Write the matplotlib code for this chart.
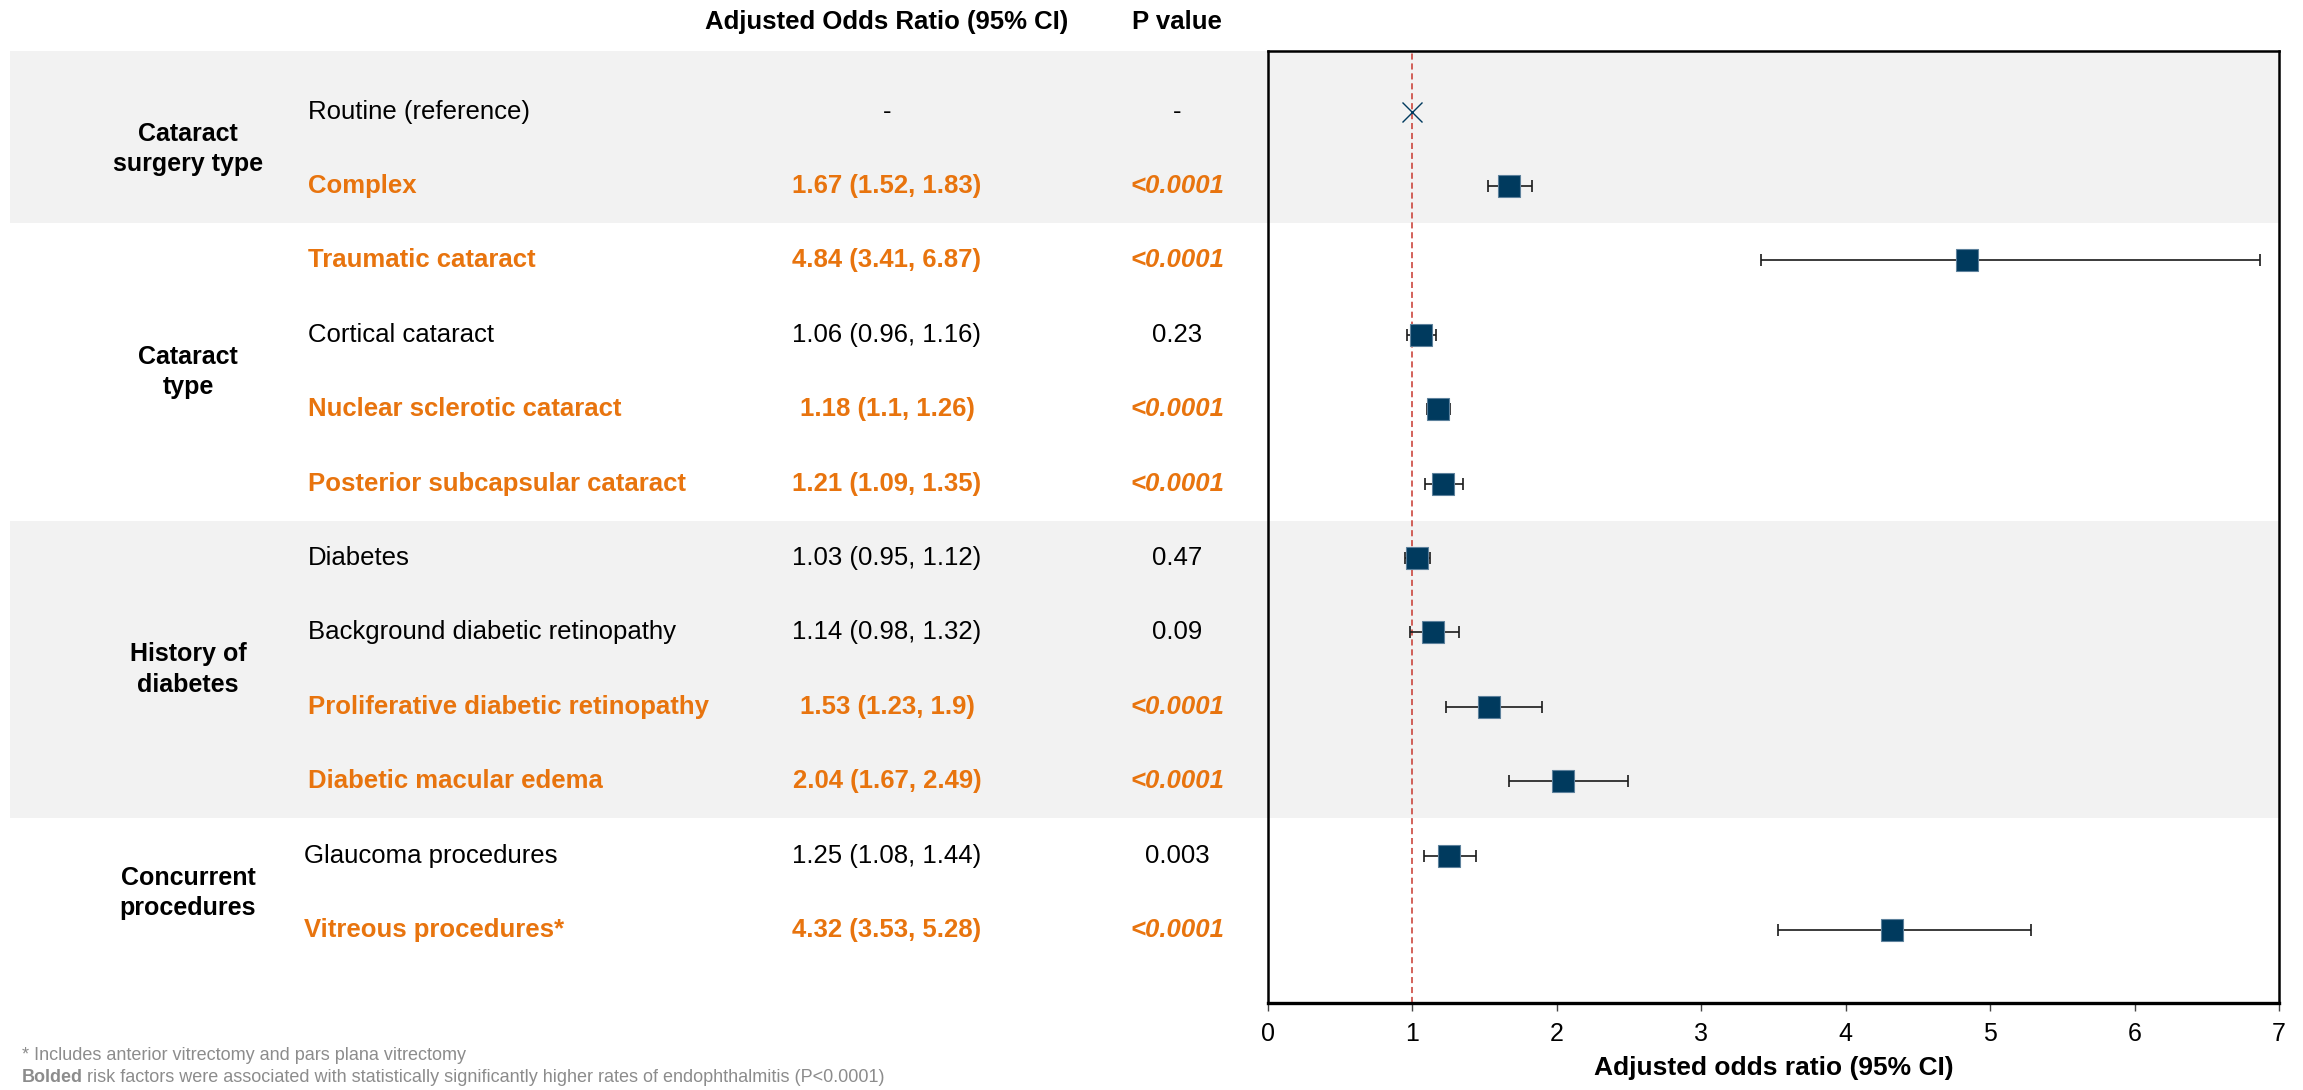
import matplotlib.pyplot as plt
from matplotlib.transforms import blended_transform_factory

plt.rcParams['font.family'] = ['Liberation Sans', 'DejaVu Sans']

# Table rows, top to bottom
labels = ['Routine (reference)', 'Complex', 'Traumatic cataract', 'Cortical cataract',
          'Nuclear sclerotic cataract', 'Posterior subcapsular cataract', 'Diabetes',
          'Background diabetic retinopathy', 'Proliferative diabetic retinopathy',
          'Diabetic macular edema', 'Glaucoma procedures', 'Vitreous procedures*']
odds = [1.00, 1.67, 4.84, 1.06, 1.18, 1.21, 1.03, 1.14, 1.53, 2.04, 1.25, 4.32]
ci_low = [None, 1.52, 3.41, 0.96, 1.10, 1.09, 0.95, 0.98, 1.23, 1.67, 1.08, 3.53]
ci_high = [None, 1.83, 6.87, 1.16, 1.26, 1.35, 1.12, 1.32, 1.90, 2.49, 1.44, 5.28]
pvals = ['-', '<0.0001', '<0.0001', '0.23', '<0.0001', '<0.0001', '0.47', '0.09',
         '<0.0001', '<0.0001', '0.003', '<0.0001']
significant = [False, True, True, False, True, True, False, False, True, True, False, True]
or_text = ['-', '1.67 (1.52, 1.83)', '4.84 (3.41, 6.87)', '1.06 (0.96, 1.16)',
           '1.18 (1.1, 1.26)', '1.21 (1.09, 1.35)', '1.03 (0.95, 1.12)',
           '1.14 (0.98, 1.32)', '1.53 (1.23, 1.9)', '2.04 (1.67, 2.49)',
           '1.25 (1.08, 1.44)', '4.32 (3.53, 5.28)']

# Groups: name, first row, last row
groups = [('Cataract\nsurgery type', 0, 1), ('Cataract\ntype', 2, 5),
          ('History of\ndiabetes', 6, 9), ('Concurrent\nprocedures', 10, 11)]

ORANGE = '#E8740E'
NAVY = '#003A5E'
GREY_BAND = '#F2F2F2'
FS = 18.5

W, H = 2303, 1090
fig = plt.figure(figsize=(W / 100, H / 100), dpi=100)

ax_left, ax_right, ax_top, ax_bottom = 1268, 2279, 51, 1003
ylim = (11.98, -0.815)

# background axes holding the shaded group bands across table + plot
bg = fig.add_axes([10 / W, (H - ax_bottom) / H, (ax_right - 10) / W, (ax_bottom - ax_top) / H])
bg.set_xlim(0, 1)
bg.set_ylim(*ylim)
bg.axis('off')
for i, (name, r0, r1) in enumerate(groups):
    if i % 2 == 0:
        top = ylim[1] if i == 0 else r0 - 0.5
        bg.axhspan(top, r1 + 0.5, color=GREY_BAND, lw=0)

ax = fig.add_axes([ax_left / W, (H - ax_bottom) / H, (ax_right - ax_left) / W, (ax_bottom - ax_top) / H])
ax.set_facecolor('none')
ax.set_xlim(0, 7)
ax.set_ylim(*ylim)

ax.axvline(1, color='#C8372D', lw=1.1, ls=(0, (4, 2.5)), zorder=1)

rows = range(len(labels))
for r in rows:
    if ci_low[r] is None:
        ax.plot(odds[r], r, marker='x', color=NAVY, ms=14, mew=1.0, zorder=3)
        continue
    ax.errorbar(odds[r], r, xerr=[[odds[r] - ci_low[r]], [ci_high[r] - odds[r]]],
                fmt='none', ecolor='#1a1a1a', elinewidth=1.2, capsize=4.3, capthick=1.2, zorder=2)
    ax.plot(odds[r], r, marker='s', color=NAVY, ms=15.5, mec='#5d819c', mew=0.8, zorder=3)

ax.set_yticks([])
ax.set_xticks(range(8))
ax.tick_params(axis='x', labelsize=18, length=6, width=1, color='#444444', pad=8)
for s in ax.spines.values():
    s.set_linewidth(1.8)
ax.spines['bottom'].set_linewidth(2.4)
ax.set_xlabel('Adjusted odds ratio (95% CI)', fontsize=19, fontweight='bold', labelpad=7)

# table text: figure x, data y
tr = blended_transform_factory(fig.transFigure, ax.transData)
x_group, x_label, x_or, x_p = 188 / W, 308 / W, 887 / W, 1177 / W

for name, r0, r1 in groups:
    fig.text(x_group, (r0 + r1) / 2, name, transform=tr, ha='center', va='center',
             fontsize=18, fontweight='bold', linespacing=1.35)

for r in rows:
    col = ORANGE if significant[r] else 'black'
    wt = 'bold' if significant[r] else 'normal'
    fig.text(x_label - (4 / W if r >= 10 else 0), r, labels[r], transform=tr,
             ha='left', va='center', fontsize=FS, color=col, fontweight=wt)
    fig.text(x_or, r, or_text[r], transform=tr, ha='center', va='center',
             fontsize=FS, color=col, fontweight=wt)
    fig.text(x_p, r, pvals[r], transform=tr, ha='center', va='center', fontsize=FS,
             color=col, fontweight=wt, style='italic' if significant[r] else 'normal')

fig.text(x_or, 1 - 22 / H, 'Adjusted Odds Ratio (95% CI)', ha='center', va='center',
         fontsize=FS, fontweight='bold')
fig.text(x_p, 1 - 22 / H, 'P value', ha='center', va='center', fontsize=FS, fontweight='bold')

# footnotes
fig.text(22 / W, 1 - 1055 / H, '* Includes anterior vitrectomy and pars plana vitrectomy',
         ha='left', va='center', fontsize=13, color='#8c8c8c')
t = fig.text(22 / W, 1 - 1077 / H, 'Bolded', ha='left', va='center', fontsize=13,
             color='#8c8c8c', fontweight='bold')
fig.canvas.draw()
bb = t.get_window_extent()
fig.text(bb.x1 / W + 4 / W, 1 - 1077 / H,
         'risk factors were associated with statistically significantly higher rates of '
         'endophthalmitis (P<0.0001)', ha='left', va='center', fontsize=13, color='#8c8c8c')

fig.savefig('out.png', dpi=100)
